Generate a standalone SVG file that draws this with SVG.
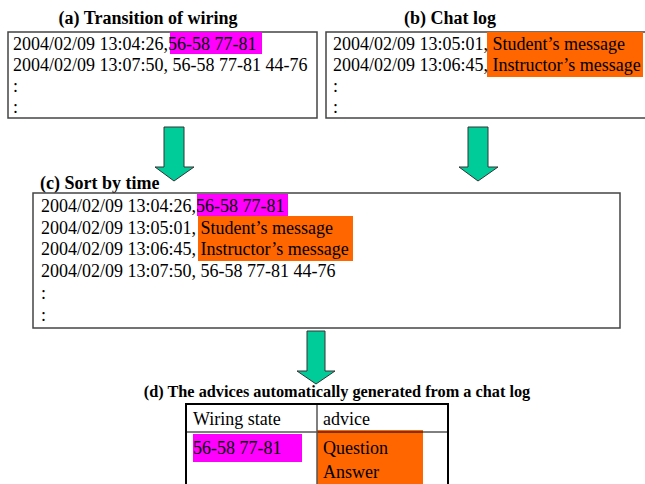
<svg xmlns="http://www.w3.org/2000/svg" width="645" height="484" viewBox="0 0 645 484">
<style>
.t{font-family:"Liberation Serif","Times New Roman",serif;font-size:18px;fill:#000}
.h{font-family:"Liberation Serif","Times New Roman",serif;font-size:18px;font-weight:bold;fill:#000}
.hd{font-size:16.3px}
.box{fill:#fff;stroke:#444;stroke-width:1.5}
.mg{fill:#FF00FF}
.or{fill:#FF6600}
.arr{fill:#00CC99;stroke:#333;stroke-width:1}
</style>
<rect width="645" height="484" fill="#fff"/>
<g id="a">
<text class="h" x="148" y="24" text-anchor="middle">(a) Transition of wiring</text>
<rect class="box" x="8" y="32" width="309" height="86"/>
<rect class="mg" x="170" y="32" width="92" height="22"/>
<text class="t" x="13" y="50">2004/02/09 13:04:26,56-58 77-81</text>
<text class="t" x="13" y="71">2004/02/09 13:07:50, 56-58 77-81 44-76</text>
<text class="t" x="13" y="92">:</text>
<text class="t" x="13" y="113">:</text>
</g>
<g id="b">
<text class="h" x="450" y="24" text-anchor="middle">(b) Chat log</text>
<rect class="box" x="326" y="32" width="330" height="86"/>
<rect class="or" x="487" y="32" width="156" height="45"/>
<text class="t" x="333" y="50">2004/02/09 13:05:01, Student’s message</text>
<text class="t" x="333" y="71">2004/02/09 13:06:45, Instructor’s message</text>
<text class="t" x="333" y="92">:</text>
<text class="t" x="333" y="113">:</text>
</g>
<g id="c">
<text class="h" x="40" y="189">(c) Sort by time</text>
<rect class="box" x="33" y="193" width="587" height="135"/>
<rect class="mg" x="197" y="194" width="91" height="22"/>
<rect class="or" x="198" y="216" width="155" height="45"/>
<text class="t" x="41" y="212">2004/02/09 13:04:26,56-58 77-81</text>
<text class="t" x="41" y="234">2004/02/09 13:05:01, Student’s message</text>
<text class="t" x="41" y="255">2004/02/09 13:06:45, Instructor’s message</text>
<text class="t" x="41" y="277">2004/02/09 13:07:50, 56-58 77-81 44-76</text>
<text class="t" x="41" y="299">:</text>
<text class="t" x="41" y="321">:</text>
</g>
<g id="d">
<text class="h hd" x="337" y="397" text-anchor="middle">(d) The advices automatically generated from a chat log</text>
<rect class="mg" x="193" y="434" width="109" height="28"/>
<rect class="or" x="317" y="430" width="106" height="56"/>
<line x1="186" y1="432" x2="448" y2="432" stroke="#000" stroke-width="1"/>
<line x1="317" y1="404" x2="317" y2="484" stroke="#555" stroke-width="1.5"/>
<path d="M186 484 V404 H448 V484" fill="none" stroke="#000" stroke-width="2"/>
<text class="t" x="193" y="425">Wiring state</text>
<text class="t" x="323" y="425">advice</text>
<text class="t" x="193" y="454">56-58 77-81</text>
<text class="t" x="323" y="454">Question</text>
<text class="t" x="323" y="478">Answer</text>
</g>
<g id="connectors">
<path class="arr" d="M164 127 H184 V167 H194 L174 181 L155 167 H164 Z"/>
<path class="arr" d="M468 127 H488 V167 H498 L478 181 L459 167 H468 Z"/>
<path class="arr" d="M307 331 H325 V371 H335 L316 384 L297 371 H307 Z"/>
</g>
</svg>
